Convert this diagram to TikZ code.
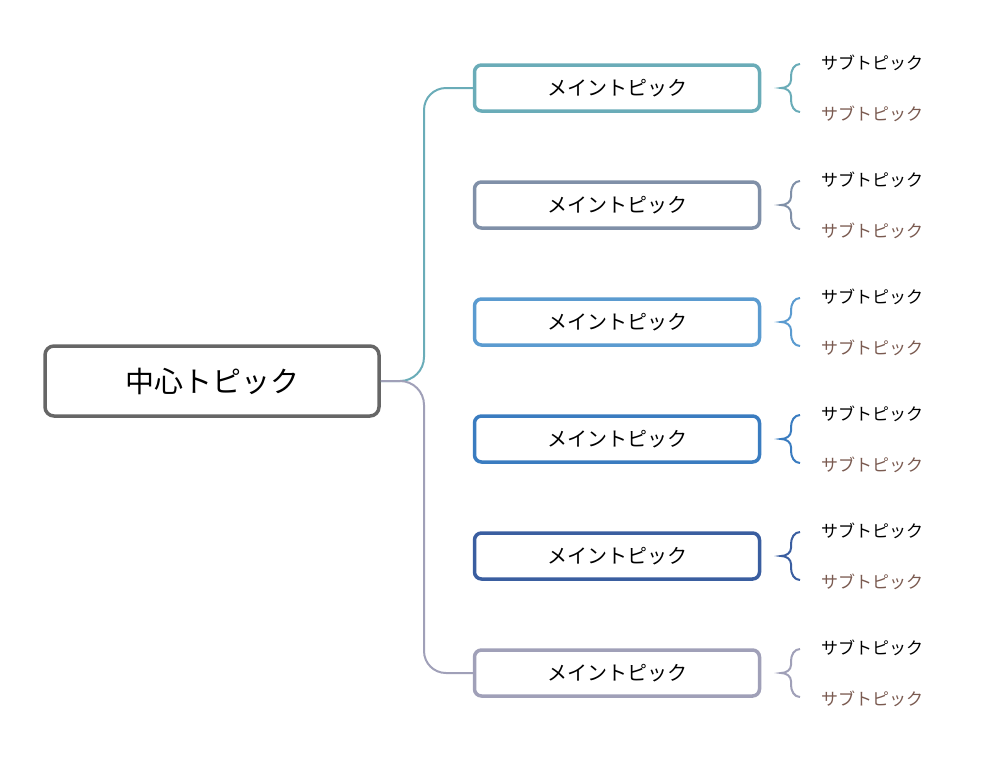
\documentclass[tikz,border=0pt]{standalone}
\usepackage{fontspec}
\newfontfamily\jp{Noto Sans CJK JP}
\definecolor{cA}{HTML}{6AACB8}
\definecolor{cB}{HTML}{8090A8}
\definecolor{cC}{HTML}{5B9BD0}
\definecolor{cD}{HTML}{3A7CC0}
\definecolor{cE}{HTML}{3A5EA0}
\definecolor{cF}{HTML}{A0A0B8}
\definecolor{subbrown}{HTML}{7A5A50}
\begin{document}
\begin{tikzpicture}[x=1pt,y=-1pt,font=\jp,
  mainbox/.style={draw=#1,line width=3.5pt,rounded corners=7pt,minimum width=285pt,minimum height=46pt,inner sep=0pt,font=\jp\fontsize{20}{24}\selectfont},
  subtxt/.style={anchor=west,inner sep=0pt,font=\jp\fontsize{17}{20}\selectfont},
  brc/.style={draw=#1,line width=2pt}]
\useasboundingbox (0,0) rectangle (992,777);
\node[draw=black!60,line width=3.5pt,rounded corners=9pt,minimum width=334pt,minimum height=70pt,font=\jp\fontsize{29}{34}\selectfont] (c) at (212,381) {中心トピック};
\foreach \i/\y/\col in {1/88/cA,2/205/cB,3/322/cC,4/439/cD,5/556/cE,6/673/cF}{
  \node[mainbox=\col] (m\i) at (617,\y) {メイントピック};
  \node[subtxt] (s\i a) at (821,\y-25) {サブトピック};
  \node[subtxt,text=subbrown] (s\i b) at (821,\y+26) {サブトピック};
  \draw[brc=\col] (800,\y-24) to[out=180,in=90] (791,\y-12) -- (791,\y-8) to[out=-90,in=0] (781,\y) to[out=0,in=90] (791,\y+8) -- (791,\y+12) to[out=-90,in=180] (800,\y+24);
}
\draw[cA,line width=2pt] (c.east) -- (400,381) to[out=0,in=-90] (424,357) -- (424,110) to[out=90,in=180] (446,88) -- (m1.west);
\draw[cF,line width=2pt] (c.east) -- (400,381) to[out=0,in=90] (424,405) -- (424,651) to[out=-90,in=180] (446,673) -- (m6.west);
\end{tikzpicture}
\end{document}
